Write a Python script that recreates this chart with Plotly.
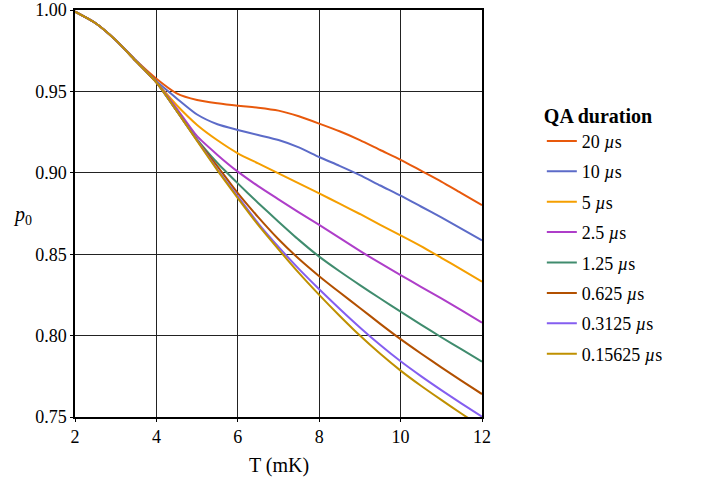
import plotly.graph_objects as go

T = [2, 2.5, 3, 3.5, 4, 4.5, 5, 5.5, 6, 6.5, 7, 7.5, 8, 8.5, 9, 9.5, 10, 10.5, 11, 11.5, 12]

labels = ["20 <i>µ</i>s", "10 <i>µ</i>s", "5 <i>µ</i>s", "2.5 <i>µ</i>s",
          "1.25 <i>µ</i>s", "0.625 <i>µ</i>s", "0.3125 <i>µ</i>s", "0.15625 <i>µ</i>s"]

p_20 = [0.999, 0.992, 0.9815, 0.969, 0.9578, 0.9488, 0.9447, 0.9427, 0.9412, 0.9400, 0.9382, 0.9347, 0.9302,
        0.9255, 0.9201, 0.9140, 0.9080, 0.9013, 0.8946, 0.8874, 0.8802]
p_10 = [0.999, 0.992, 0.9815, 0.969, 0.9562, 0.9457, 0.9358, 0.9298, 0.9263, 0.9232, 0.9201, 0.9156, 0.9097,
        0.9043, 0.8986, 0.8922, 0.8860, 0.8793, 0.8726, 0.8656, 0.8585]
p_5 = [0.999, 0.992, 0.9815, 0.9685, 0.9555, 0.9415, 0.9294, 0.9200, 0.9120, 0.9058, 0.8997, 0.8935, 0.8874,
       0.8810, 0.8747, 0.8680, 0.8616, 0.8550, 0.8478, 0.8405, 0.8331]
p_2_5 = [0.999, 0.992, 0.9815, 0.9685, 0.9555, 0.9395, 0.9225, 0.9110, 0.9007, 0.8918, 0.8837, 0.8757, 0.8680,
         0.8600, 0.8520, 0.8445, 0.8372, 0.8300, 0.8229, 0.8155, 0.8079]
p_1_25 = [0.999, 0.992, 0.9815, 0.9685, 0.9555, 0.9380, 0.9205, 0.9060, 0.8935, 0.8815, 0.8700, 0.8588, 0.8485,
          0.8395, 0.8310, 0.8228, 0.8147, 0.8068, 0.7990, 0.7915, 0.7840]
p_0_625 = [0.999, 0.992, 0.9815, 0.9685, 0.9555, 0.9380, 0.9200, 0.9040, 0.8875, 0.8728, 0.8592, 0.8472, 0.8365,
           0.8266, 0.8170, 0.8072, 0.7978, 0.7890, 0.7805, 0.7722, 0.7641]
p_0_3125 = [0.999, 0.992, 0.9815, 0.9685, 0.9555, 0.9380, 0.9200, 0.9020, 0.8855, 0.8690, 0.8545, 0.8410, 0.8285,
            0.8165, 0.8050, 0.7942, 0.7842, 0.7751, 0.7665, 0.7582, 0.7502]
p_0_15625 = [0.999, 0.992, 0.9815, 0.9685, 0.9555, 0.9380, 0.9195, 0.9015, 0.8845, 0.8680, 0.8530, 0.8385, 0.8250,
             0.8122, 0.8000, 0.7888, 0.7785, 0.7692, 0.7605, 0.7520, 0.7438]

series = [p_20, p_10, p_5, p_2_5, p_1_25, p_0_625, p_0_3125, p_0_15625]
colors = ["#E8590C", "#5C6BC8", "#F59F00", "#AE3EC9", "#408C6E", "#B25000", "#845EF0", "#BF9000"]

x_ticks = [2, 4, 6, 8, 10, 12]
y_ticks = [0.75, 0.80, 0.85, 0.90, 0.95, 1.00]

FONT = "Liberation Serif"

fig = go.Figure()
for i, (lab, ys, c) in enumerate(zip(labels, series, colors)):
    fig.add_trace(go.Scatter(x=T, y=ys, mode="lines", name=lab,
                             line=dict(color=c, width=2, shape="spline", smoothing=0.6),
                             legendgroup=f"g{i}"))

axis_common = dict(showline=True, linecolor="black", linewidth=1.5, mirror=True,
                   showgrid=True, gridcolor="#222222", gridwidth=1,
                   ticks="outside", ticklen=3, tickcolor="black",
                   zeroline=False, automargin=False,
                   tickfont=dict(family=FONT, size=18, color="black"))

fig.update_xaxes(range=[2, 12], tickvals=x_ticks, **axis_common)
fig.update_yaxes(range=[0.75, 1.00], tickvals=y_ticks, tickformat=".2f", **axis_common)

fig.update_layout(
    width=704, height=480,
    margin=dict(l=75, r=222, t=10, b=63, autoexpand=False),
    plot_bgcolor="white", paper_bgcolor="white",
    font=dict(family=FONT, size=18, color="black"),
    legend=dict(
        title=dict(text="<b>QA duration</b>", font=dict(family=FONT, size=20)),
        x=1.147, y=0.787, xanchor="left", yanchor="top",
        traceorder="grouped", tracegroupgap=4,
        font=dict(family=FONT, size=18),
        itemwidth=30, bgcolor="rgba(0,0,0,0)",
    ),
    annotations=[
        dict(text="T (mK)", xref="paper", yref="paper", x=0.5, y=-0.12,
             xanchor="center", yanchor="middle", showarrow=False,
             font=dict(family=FONT, size=20)),
        dict(text="<i>p</i><sub>0</sub>", xref="paper", yref="paper", x=-0.13, y=0.496,
             xanchor="center", yanchor="middle", showarrow=False,
             font=dict(family=FONT, size=20)),
    ],
)

fig.write_html("out.html", config={"displayModeBar": False},
               post_script="document.body.style.margin='0';")
